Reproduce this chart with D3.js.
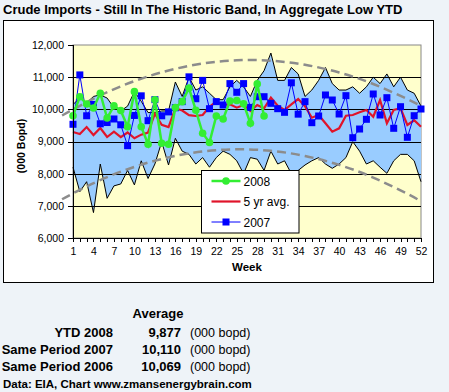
<!DOCTYPE html>
<html>
<head>
<meta charset="utf-8">
<script src="https://cdn.jsdelivr.net/npm/d3@7"></script>
<style>
  body { margin: 0; background: #eef3f8; }
  svg { display: block; font-family: "Liberation Sans", Arial, sans-serif; }
  .axis path, .axis line { stroke: #000; shape-rendering: crispEdges; }
  .axis text { font-size: 10.5px; fill: #000; }
</style>
</head>
<body>
<svg id="chart" width="449" height="392"></svg>
<script>
'use strict';

var weeks = d3.range(1, 53);
var xTickLabels = [1, 4, 7, 10, 13, 16, 19, 22, 25, 28, 31, 34, 37, 40, 43, 46, 49, 52];
var yTicks = [6000, 7000, 8000, 9000, 10000, 11000, 12000];
var gridValues = [7000, 8000, 9000, 10000, 11000];

// historic band (min / max of earlier years)
var bandHigh = [10150, 10350, 10200, 10400, 10450, 10350, 10050, 9950, 10100, 10550, 10250, 9900, 9900,
  9950, 9950, 10850, 10400, 11000, 10600, 10700, 10500, 10300, 10300, 10700, 10900, 10700,
  10400, 10900, 11200, 11750, 10900, 10900, 11300, 11100, 10400, 10600, 10900, 11300, 10800,
  10600, 10600, 10700, 10500, 10700, 11000, 10800, 11100, 10700, 11000, 10600, 10500, 10100];
var bandLow = [8200, 7440, 7750, 6790, 8300, 7233, 7620, 7680, 8100, 7650, 8400, 7850, 8300,
  8990, 8269, 9099, 8700, 8600, 8300, 8500, 8200, 8500, 8700, 8600, 8400, 8000,
  8500, 8450, 8100, 8700, 8300, 8400, 8000, 8100, 8269, 8400, 8500, 8300, 8166,
  8300, 8500, 8994, 8700, 8300, 8400, 8200, 8011, 8400, 8600, 8600, 8400, 7750];

var avg5yr = [9295, 9233, 9450, 9202, 9420, 9140, 9305, 9135, 9280, 9100, 9213, 9280, 9865,
  9518, 9446, 10032, 9963, 9820, 9793, 9824, 10082, 10239, 10135, 10156, 10052, 10135,
  9948, 10135, 10032, 10362, 10113, 9979, 10156, 10321, 10100, 9740, 9824, 9566, 9305,
  9410, 9802, 9824, 9907, 9979, 9771, 10290, 9566, 9979, 10032, 9513, 9660, 9460];

var imports2007 = [9535, 11070, 9800, 10150, 9550, 9590, 9700, 9520, 8870, 9810, 10420, 9647, 10300,
  9800, 9920, 10050, 10240, 11010, 10330, 10900, 10020, 10240, 10135, 10800, 10530, 10800,
  10060, 10393, 10393, 10187, 10020, 9907, 10825, 9850, 10239, 9585, 9793, 10446, 10290,
  9855, 10425, 9118, 9388, 9690, 10477, 9824, 10362, 9410, 10082, 9130, 9802, 10010];

var imports2008 = [9800, 10393, 10166, 10042, 10500, 9730, 10108, 9963, 9460, 10550, 9460, 8913, 10300,
  8944, 8913, 10052, 10239, 10660, 9970, 9255, 8970, 9793, 9699, 10259, 10275, 10170,
  9566, 10790, 9793];

// dashed "historic band" curves, read at a few weeks
var trendWeeks = [-0.6, 1, 5, 10, 15, 20, 25, 30, 35, 40, 45, 50, 52];
var trendHigh = [9808, 9995, 10433, 10878, 11207, 11423, 11525, 11512, 11385, 11145, 10788, 10318, 10098];
var trendLow = [7204, 7387, 7800, 8211, 8506, 8690, 8757, 8711, 8550, 8273, 7878, 7375, 7138];

var legendItems = ['2008', '5 yr avg.', '2007'];
var summaryRows = [
  { label: 'YTD 2008', value: 9877 },
  { label: 'Same Period 2007', value: 10110 },
  { label: 'Same Period 2006', value: 10069 }
];

var svg = d3.select('#chart');

var x = d3.scaleLinear().domain([1, 52]).range([73, 421]);
var y = d3.scaleLinear().domain([6000, 12000]).range([238, 45]);

var green = '#33ee33', red = '#e0142a', blue = '#0000ff';

svg.append('text')
  .attr('x', 3).attr('y', 14)
  .attr('font-size', 13).attr('font-weight', 'bold')
  .text('Crude Imports - Still In The Historic Band, In Aggregate Low YTD');

// chart box
svg.append('rect')
  .attr('x', 3.5).attr('y', 20.5).attr('width', 430).attr('height', 262)
  .attr('fill', '#fff').attr('stroke', '#000');

// plot area
svg.append('rect')
  .attr('x', x(1)).attr('y', y(12000))
  .attr('width', x(52) - x(1)).attr('height', y(6000) - y(12000))
  .attr('fill', '#ffffcc').attr('stroke', '#888');

var band = d3.area()
  .x(function(d, i) { return x(weeks[i]); })
  .y0(function(d, i) { return y(bandLow[i]); })
  .y1(function(d) { return y(d); });

svg.append('path')
  .datum(bandHigh)
  .attr('d', band)
  .attr('fill', '#99ccff');

svg.selectAll('.grid')
  .data(gridValues)
.enter().append('line')
  .attr('class', 'grid')
  .attr('x1', x(1)).attr('x2', x(52))
  .attr('y1', function(d) { return Math.round(y(d)) + 0.5; })
  .attr('y2', function(d) { return Math.round(y(d)) + 0.5; })
  .attr('stroke', '#000');

var weekLine = d3.line()
  .x(function(d, i) { return x(weeks[i]); })
  .y(function(d) { return y(d); });

[bandHigh, bandLow].forEach(function(s) {
  svg.append('path').datum(s)
    .attr('d', weekLine)
    .attr('fill', 'none').attr('stroke', '#000').attr('stroke-width', 1);
});

var trendLine = d3.line()
  .curve(d3.curveNatural)
  .x(function(d, i) { return x(trendWeeks[i]); })
  .y(function(d) { return y(d); });

[trendHigh, trendLow].forEach(function(s) {
  svg.append('path').datum(s)
    .attr('d', trendLine)
    .attr('fill', 'none').attr('stroke', '#8c8c8c')
    .attr('stroke-width', 2.5).attr('stroke-dasharray', '9,5');
});

// 5 yr avg
svg.append('path').datum(avg5yr)
  .attr('d', weekLine)
  .attr('fill', 'none').attr('stroke', red).attr('stroke-width', 2.2);

// 2007
svg.append('path').datum(imports2007)
  .attr('d', weekLine)
  .attr('fill', 'none').attr('stroke', blue).attr('stroke-width', 1);
svg.selectAll('.m07')
  .data(imports2007)
.enter().append('rect')
  .attr('class', 'm07')
  .attr('x', function(d, i) { return x(weeks[i]) - 3.5; })
  .attr('y', function(d) { return y(d) - 3.5; })
  .attr('width', 7).attr('height', 7)
  .attr('fill', blue);

// 2008
svg.append('path').datum(imports2008)
  .attr('d', weekLine)
  .attr('fill', 'none').attr('stroke', green).attr('stroke-width', 2.5);
svg.selectAll('.m08')
  .data(imports2008)
.enter().append('circle')
  .attr('class', 'm08')
  .attr('cx', function(d, i) { return x(weeks[i]); })
  .attr('cy', function(d) { return y(d); })
  .attr('r', 3.8)
  .attr('fill', green);

// axes
svg.append('g')
  .attr('class', 'axis')
  .attr('transform', 'translate(0,' + y(6000) + ')')
  .call(d3.axisBottom(x)
    .tickValues(weeks)
    .tickSize(4)
    .tickPadding(6)
    .tickFormat(function(d) { return xTickLabels.indexOf(d) >= 0 ? d : ''; }));

svg.append('g')
  .attr('class', 'axis')
  .attr('transform', 'translate(' + x(1) + ',0)')
  .call(d3.axisLeft(y)
    .tickValues(yTicks)
    .tickSize(5)
    .tickPadding(4)
    .tickFormat(d3.format(',')));

svg.selectAll('.axis .domain').attr('stroke', '#000');

svg.append('text')
  .attr('x', 247).attr('y', 271)
  .attr('text-anchor', 'middle')
  .attr('font-size', 11.5).attr('font-weight', 'bold')
  .text('Week');

svg.append('text')
  .attr('transform', 'translate(25,146) rotate(-90)')
  .attr('text-anchor', 'middle')
  .attr('font-size', 10.5).attr('font-weight', 'bold')
  .text('(000 Bopd)');

// legend
var legend = svg.append('g').attr('transform', 'translate(201.5,170.5)');
legend.append('rect')
  .attr('width', 97.5).attr('height', 62.5)
  .attr('fill', '#fff').attr('stroke', '#000');

var legendColors = [green, red, blue];
var legendWidths = [2.5, 2.2, 1];
legendItems.forEach(function(name, i) {
  var ly = 10.5 + i * 20.5;
  legend.append('line')
    .attr('x1', 10).attr('x2', 39).attr('y1', ly).attr('y2', ly)
    .attr('stroke', legendColors[i]).attr('stroke-width', legendWidths[i]);
  if (i === 0) {
    legend.append('circle').attr('cx', 24.5).attr('cy', ly).attr('r', 3.8).attr('fill', green);
  }
  if (i === 2) {
    legend.append('rect').attr('x', 21).attr('y', ly - 3.5).attr('width', 7).attr('height', 7).attr('fill', blue);
  }
  legend.append('text')
    .attr('x', 42).attr('y', ly + 4.5)
    .attr('font-size', 12)
    .text(name);
});

// summary block under the chart
svg.append('text')
  .attr('x', 158).attr('y', 318)
  .attr('text-anchor', 'middle')
  .attr('font-size', 13).attr('font-weight', 'bold')
  .text('Average');

var fmt = d3.format(',');
summaryRows.forEach(function(r, i) {
  var by = 337 + i * 17;
  svg.append('text')
    .attr('x', 113).attr('y', by).attr('text-anchor', 'end')
    .attr('font-size', 13).attr('font-weight', 'bold')
    .text(r.label);
  svg.append('text')
    .attr('x', 181).attr('y', by).attr('text-anchor', 'end')
    .attr('font-size', 13).attr('font-weight', 'bold')
    .text(fmt(r.value));
  svg.append('text')
    .attr('x', 190).attr('y', by)
    .attr('font-size', 12.5)
    .text('(000 bopd)');
});

svg.append('text')
  .attr('x', 3).attr('y', 388)
  .attr('font-size', 11.5).attr('font-weight', 'bold')
  .text('Data: EIA, Chart www.zmansenergybrain.com');
</script>
</body>
</html>
